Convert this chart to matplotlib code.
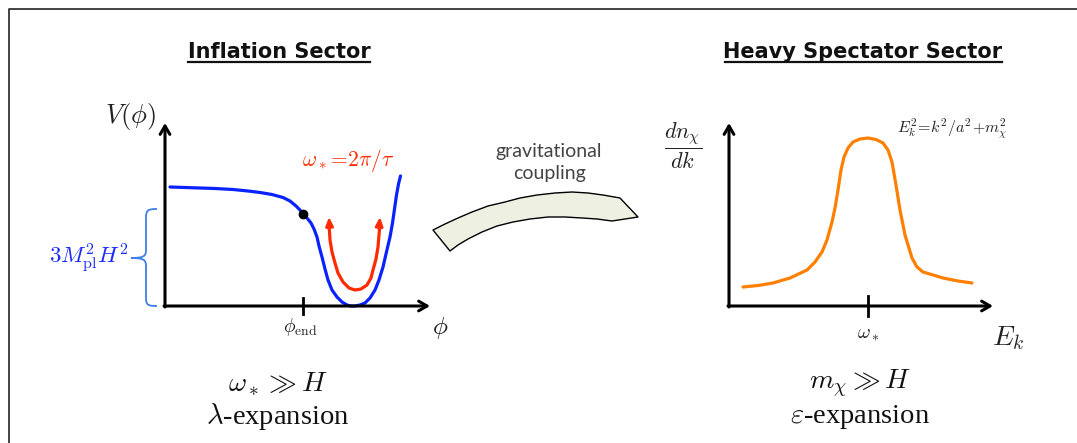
import numpy as np
import matplotlib
matplotlib.use("Agg")
import matplotlib.pyplot as plt
from matplotlib.patches import Polygon, PathPatch
from matplotlib.path import Path

plt.rcParams['mathtext.fontset'] = 'cm'

# curve points (pixel coords, y down)
potential_x = [170, 185, 200, 215, 233, 248, 260, 272, 283, 290, 296, 300, 303, 307, 311, 314, 317, 319,
               322, 325, 328, 332, 337, 342, 347, 351, 355, 360, 365, 370, 375, 379, 383, 386, 390, 392.5,
               394.5, 396.5, 398.5, 400.5]
potential_y = [187, 187.5, 188, 188.5, 189.5, 191, 192.5, 194.5, 197.5, 201, 206, 210, 214, 218, 223, 229,
               237, 246, 257, 269, 280, 290, 297, 302, 305, 306, 306, 305, 303, 298, 290, 280, 267, 254,
               237, 223, 209, 195, 184, 176]
end_point = (303, 214)

osc_x = [329, 329.5, 330, 332, 335, 338, 343, 349, 355, 361, 367, 371, 373, 376, 378, 379, 380]
osc_y = [225, 232, 240, 252, 263, 273, 282, 288, 290, 289, 285, 278, 270, 259, 247, 235, 225]

spec_x = [743, 758, 773, 790, 807, 815, 822, 827, 832, 835, 838, 841, 844, 848, 853, 860, 868, 876, 883,
          888, 892, 896, 900, 905, 912, 917, 923, 933, 943, 958, 972]
spec_y = [287, 285.5, 283, 278, 270, 262, 252, 240, 222, 208, 190, 170, 157, 148, 142, 139, 138, 139.5,
          143, 150, 162, 185, 210, 235, 258, 267, 272, 275, 278, 281, 283]

W, H = 1077, 443
fig = plt.figure(figsize=(W / 100, H / 100), dpi=100)
ax = fig.add_axes([0, 0, 1, 1])
ax.set_xlim(0, W)
ax.set_ylim(H, 0)
ax.axis('off')

# frame
ax.plot([8.5, 8.5, W], [H, 9, 9], color='#222222', lw=1.2)

def axes_arrows(x0, y0, xtip, ytip):
    arr = dict(arrowstyle='->,head_length=0.6,head_width=0.35', lw=2.2, color='black',
               shrinkA=0, shrinkB=0)
    ax.annotate('', xy=(x0, ytip), xytext=(x0, y0 + 1), arrowprops=arr)
    ax.annotate('', xy=(xtip, y0), xytext=(x0 - 1, y0), arrowprops=arr)

# ---------------- left: inflation sector
ax.text(279, 52, 'Inflation Sector', ha='center', va='center', fontsize=15,
        fontweight='bold', family='DejaVu Sans', color='#111111')
ax.plot([188, 370], [62, 62], color='#111111', lw=1.6)

axes_arrows(165, 306, 430, 123)
ax.plot(potential_x, potential_y, color='#0a22ff', lw=2.3, solid_capstyle='round',
        solid_joinstyle='round')
ax.plot(*end_point, 'o', color='black', ms=6)

ax.plot(osc_x, osc_y, color='#ff2a00', lw=2.3, solid_joinstyle='round')
for xe, ye, xb, yb in [(osc_x[0], osc_y[0], osc_x[1], osc_y[1]), (osc_x[-1], osc_y[-1], osc_x[-2], osc_y[-2])]:
    ax.annotate('', xy=(xe, ye - 8), xytext=(xb, yb - 6),
                arrowprops=dict(arrowstyle='-|>,head_length=0.5,head_width=0.22',
                                lw=2.0, color='#ff2a00', shrinkA=0, shrinkB=0))
ax.text(348, 160, r'$\omega_*\!=\!2\pi/\tau$', color='#ff2a00', fontsize=15.5,
        ha='center', va='center')

ax.plot([303, 303], [298, 314], color='black', lw=2)
ax.text(300, 327, r'$\phi_{\rm end}$', fontsize=14, ha='center', va='center', color='#222222')
ax.text(440, 328, r'$\phi$', fontsize=18, ha='center', va='center', color='#222222')
ax.text(130, 116, r'$V(\phi)$', fontsize=19, ha='center', va='center', color='#222222')

# brace
bc = '#3f7fe8'
verts = [(157, 209), (148, 209), (146, 210), (146, 218),
         (146, 250),
         (146, 256), (144, 258), (131, 258),
         (144, 258), (146, 260), (146, 266),
         (146, 298),
         (146, 305), (148, 306), (157, 306)]
codes = [Path.MOVETO, Path.CURVE4, Path.CURVE4, Path.CURVE4,
         Path.LINETO,
         Path.CURVE4, Path.CURVE4, Path.CURVE4,
         Path.CURVE4, Path.CURVE4, Path.CURVE4,
         Path.LINETO,
         Path.CURVE4, Path.CURVE4, Path.CURVE4]
ax.add_patch(PathPatch(Path(verts, codes), fill=False, ec=bc, lw=1.3))
ax.text(128, 258, r'$3M_{\rm pl}^2H^2$', color='#1a2cff', fontsize=16.5,
        ha='right', va='center')

ax.text(278, 384, r'$\omega_*\gg H$', fontsize=20, ha='center', va='center', color='#111111')
ax.text(278, 417, r'$\lambda$-expansion', fontsize=20.5, ha='center', va='center',
        family='Liberation Serif', color='#111111')

# ---------------- middle: coupling arrow
band = [(433, 230), (445, 224), (458, 218), (472, 212), (488, 206), (505, 202), (520, 198), (537, 195),
        (555, 193), (572, 192), (588, 193), (603, 195), (620, 198), (638, 217), (612, 221), (597, 219),
        (582, 218), (565, 217), (548, 217), (530, 219), (513, 222), (497, 226), (482, 232), (468, 239),
        (458, 245), (450, 251)]
ax.add_patch(Polygon(band, closed=True, fc='#eef0e2', ec='black', lw=1.0, joinstyle='round'))
ax.text(549, 151, 'gravitational', ha='center', va='center', fontsize=14,
        family='Lato', color='#444444')
ax.text(549, 173, 'coupling', ha='center', va='center', fontsize=14,
        family='Lato', color='#444444')

# ---------------- right: heavy spectator sector
ax.text(863, 52, 'Heavy Spectator Sector', ha='center', va='center', fontsize=15,
        fontweight='bold', family='DejaVu Sans', color='#111111')
ax.plot([725, 1002], [62, 62], color='#111111', lw=1.6)

axes_arrows(729, 306, 993, 123)
ax.plot(spec_x, spec_y, color='#ff8000', lw=2.3, solid_capstyle='round', solid_joinstyle='round')
ax.plot([868, 868], [296, 316], color='black', lw=2)
ax.text(868, 333, r'$\omega_*$', fontsize=14, ha='center', va='center', color='#222222')
ax.text(1008, 338, r'$E_k$', fontsize=20, ha='center', va='center', color='#222222')
ax.text(683, 146, r'$\dfrac{dn_\chi}{dk}$', fontsize=16, ha='center', va='center', color='#222222')
ax.text(952, 129, r'$E_k^2\!=\!k^2/a^2\!+\!m_\chi^2$', fontsize=11.5, ha='center', va='center',
        color='#222222')

ax.text(860, 384, r'$m_\chi\gg H$', fontsize=20, ha='center', va='center', color='#111111')
ax.text(860, 417, r'$\varepsilon$-expansion', fontsize=20.5, ha='center', va='center',
        family='Liberation Serif', color='#111111')

fig.savefig('out.png', dpi=100)
